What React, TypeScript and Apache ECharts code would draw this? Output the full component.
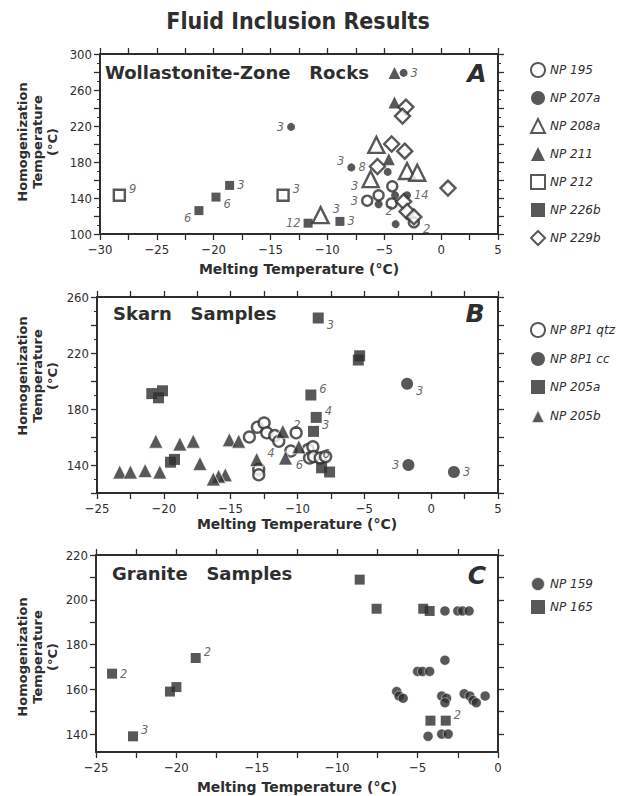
import React, { useEffect, useRef } from "react";
import * as echarts from "echarts";

// ---------- Panel A: Wollastonite-Zone Rocks  [melting T, homogenization T, count]
const np195: (number | null)[][] = [[-6.5, 137, 3], [-5.5, 143], [-4.3, 153], [-4.35, 134], [-2.4, 113, 2]];
const np207a: (number | null)[][] = [[-13.2, 219, 3], [-7.9, 174, 3], [-3.3, 279, 3], [-4.7, 169], [-5.5, 133, 2], [-4.05, 143], [-3.0, 143, 14], [-4.0, 111]];
const np208a: (number | null)[][] = [[-10.6, 121, 3], [-5.7, 199], [-6.2, 161, 3], [-3.0, 170], [-2.1, 168]];
const np211: (number | null)[][] = [[-4.1, 279], [-4.1, 246], [-4.6, 183]];
const np212: (number | null)[][] = [[-28.3, 143, 9], [-13.9, 143, 3]];
const np226b: (number | null)[][] = [[-21.3, 126, 6], [-19.8, 141, 6], [-18.6, 154, 3], [-11.7, 112, 12], [-8.9, 114, 3]];
const np229b: (number | null)[][] = [[-3.1, 241], [-3.4, 231], [-4.35, 200], [-3.2, 192], [-5.6, 175, 8], [-3.3, 136], [-3.0, 125], [-2.4, 119], [0.6, 151]];

// ---------- Panel B: Skarn Samples
const np8p1qtz: (number | null)[][] = [[-13.6, 160], [-13.0, 167], [-12.5, 170], [-12.3, 163], [-12.9, 137], [-12.9, 133], [-11.7, 161], [-11.4, 157], [-10.1, 163], [-10.5, 150], [-9.2, 151], [-8.85, 153, 6], [-9.1, 145], [-8.8, 146], [-8.3, 145], [-7.9, 146]];
const np8p1cc: (number | null)[][] = [[-1.8, 198, 3], [-1.7, 140, 3], [1.7, 135, 3]];
const np205a: (number | null)[][] = [[-8.45, 245, 3], [-5.35, 218], [-5.45, 215], [-9.0, 190, 6], [-8.6, 174, 4], [-8.8, 164, 3], [-8.2, 138], [-7.6, 135], [-20.9, 191], [-20.1, 193], [-20.4, 188], [-19.2, 144], [-19.5, 142]];
const np205b: (number | null)[][] = [[-23.3, 135], [-22.5, 135], [-21.4, 136], [-20.3, 135], [-20.6, 157], [-18.8, 155], [-17.8, 157], [-17.3, 141], [-15.4, 133], [-15.9, 132], [-16.3, 130], [-15.1, 158], [-14.4, 157], [-11.1, 164, 2], [-13.05, 144, 4], [-10.9, 145, 6], [-9.9, 153]];

// ---------- Panel C: Granite Samples
const np159: (number | null)[][] = [[-3.3, 195], [-2.5, 195], [-2.2, 195], [-1.8, 195], [-3.3, 173], [-5.0, 168], [-4.7, 168], [-4.25, 168], [-6.3, 159], [-6.15, 157], [-5.9, 156], [-3.5, 157], [-3.2, 156], [-3.3, 154], [-2.1, 158], [-1.75, 157], [-1.55, 155], [-1.35, 154], [-0.8, 157], [-4.35, 139], [-3.5, 140], [-3.1, 140]];
const np165: (number | null)[][] = [[-24.0, 167, 2], [-22.7, 139, 3], [-20.4, 159], [-20.0, 161], [-18.8, 174, 2], [-8.6, 209], [-7.55, 196], [-4.65, 196], [-4.25, 195], [-4.2, 146], [-3.25, 146, 2]];

// tick labels
const xLabelsA = [-30, -25, -20, -15, -10, -5, 0, 5];
const yLabelsA = [100, 140, 180, 220, 260, 300];
const xLabelsB = [-25, -20, -15, -10, -5, 0, 5];
const yLabelsB = [140, 180, 220, 260];
const xLabelsC = [-25, -20, -15, -10, -5, 0];
const yLabelsC = [140, 160, 180, 200, 220];
const yTicksC = [140, 150, 160, 170, 180, 190, 200, 210, 220];

// label placement for counts (kept apart from data)
const sides: Record<string, string[]> = {
  "NP 195": ["l", "r", "r", "r", "br"],
  "NP 207a": ["l", "tl", "r", "r", "br", "r", "r", "r"],
  "NP 208a": ["tr", "r", "bl", "r", "r"],
  "NP 212": ["tr", "tr"],
  "NP 226b": ["bl", "br", "r", "l", "r"],
  "NP 229b": ["r", "r", "r", "r", "l", "r", "r", "r", "r"],
  "NP 8P1 qtz": ["r", "r", "r", "r", "r", "r", "r", "r", "r", "r", "r", "br"],
  "NP 8P1 cc": ["br", "l", "r"],
  "NP 205a": ["br", "r", "r", "tr", "tr", "tr"],
  "NP 205b": ["r", "r", "r", "r", "r", "r", "r", "r", "r", "r", "r", "r", "r", "tr", "tr", "br"],
  "NP 165": ["r", "tr", "r", "r", "tr", "r", "r", "r", "r", "r", "tr"],
};

const INK = "#2e2e2e";
const FONT = '"DejaVu Sans", sans-serif';
const COND = '"DejaVu Sans Condensed", "DejaVu Sans", sans-serif';

const fmt = (v: number) => (v < 0 ? "\u2212" + Math.abs(v) : String(v));

function placement(s: string) {
  switch (s) {
    case "l": return { position: "left", offset: [0, 0] };
    case "tl": return { position: "left", offset: [0, -6] };
    case "bl": return { position: "left", offset: [0, 7] };
    case "tr": return { position: "right", offset: [0, -6] };
    case "br": return { position: "right", offset: [0, 7] };
    default: return { position: "right", offset: [0, 0] };
  }
}

function series(name: string, data: (number | null)[][], gi: number, symbol: string, size: number, open: boolean, extra: any = {}) {
  const sd = sides[name] || [];
  return {
    name,
    type: "scatter",
    xAxisIndex: gi * 2,
    yAxisIndex: gi * 2,
    symbol,
    symbolSize: size,
    itemStyle: open
      ? { color: "#fff", borderColor: INK, borderWidth: 2.4 }
      : { color: INK, ...(extra.itemStyle || {}) },
    data: data.map((d, i) => {
      const n = d[2];
      const p = placement(sd[i] || "r");
      return {
        value: [d[0], d[1]],
        label: {
          show: n != null,
          formatter: n != null ? String(n) : "",
          position: p.position,
          offset: p.offset,
          distance: 3,
          color: "#444",
          fontSize: 11.5,
          fontStyle: "italic",
          fontFamily: FONT,
        },
      };
    }),
    z: extra.z || 2,
  };
}

function axes(gi: number, xmin: number, xmax: number, ymin: number, ymax: number, xLabels: number[], yLabels: number[], yInterval: number | null, yTicks: number[] | null) {
  const line = { show: true, onZero: false, lineStyle: { color: INK, width: 2 } };
  const tick = { show: true, inside: false, length: 6, lineStyle: { color: INK, width: 1.3 } };
  const xs = [
    {
      gridIndex: gi, type: "value", position: "bottom", min: xmin, max: xmax, interval: 2.5,
      axisLine: line, axisTick: tick, splitLine: { show: false },
      axisLabel: {
        color: INK, fontSize: 13, fontFamily: COND, margin: 9, hideOverlap: false,
        showMinLabel: true, showMaxLabel: true,
        formatter: (v: number) => (xLabels.some((l) => Math.abs(l - v) < 1e-6) ? fmt(v) : ""),
      },
    },
    {
      gridIndex: gi, type: "value", position: "top", min: xmin, max: xmax, interval: 2.5,
      axisLine: line, axisTick: tick, splitLine: { show: false }, axisLabel: { show: false },
    },
  ];
  const yBase: any = {
    gridIndex: gi, type: "value", min: ymin, max: ymax,
    axisLine: line, splitLine: { show: false },
  };
  if (yInterval) {
    yBase.interval = yInterval;
    yBase.minorTick = { show: true, splitNumber: 2, length: 3, lineStyle: { color: INK, width: 1 } };
    yBase.axisTick = tick;
  } else {
    yBase.axisTick = { ...tick, customValues: yTicks };
  }
  const ys = [
    {
      ...yBase, position: "left",
      axisLabel: {
        color: INK, fontSize: 13, fontFamily: COND, margin: 8, hideOverlap: false,
        showMinLabel: true, showMaxLabel: true,
        ...(yInterval ? {} : { customValues: yLabels }),
        formatter: (v: number) => (yLabels.some((l) => Math.abs(l - v) < 1e-6) ? String(v) : ""),
      },
    },
    { ...yBase, position: "right", axisLabel: { show: false } },
  ];
  return { xs, ys };
}

function yName(x: number, y: number) {
  return {
    type: "text", x, y, rotation: Math.PI / 2,
    style: {
      text: "Homogenization\nTemperature\n(\u00B0C)", align: "center", verticalAlign: "middle",
      font: "bold 13px " + FONT, fill: INK, lineHeight: 15,
    },
  };
}
function xName(x: number, y: number) {
  return {
    type: "text", x, y,
    style: { text: "Melting Temperature (\u00B0C)", align: "center", verticalAlign: "middle", font: "bold 14px " + FONT, fill: INK },
  };
}
function heading(text: string, x: number, y: number) {
  return { type: "text", x, y, style: { text, align: "left", verticalAlign: "middle", font: "bold 18px " + FONT, fill: INK } };
}
function letter(text: string, x: number, y: number) {
  return { type: "text", x, y, style: { text, align: "center", verticalAlign: "middle", font: "italic bold 25px " + FONT, fill: INK } };
}

export default function App() {
  const ref = useRef<HTMLDivElement>(null);
  useEffect(() => {
    document.body.style.margin = "0";
    if (!ref.current) return;
    const chart = echarts.init(ref.current, undefined, { renderer: "svg" });
    const a = axes(0, -30, 5, 100, 300, xLabelsA, yLabelsA, 20, null);
    const b = axes(1, -25, 5, 120, 260, xLabelsB, yLabelsB, 20, null);
    const c = axes(2, -25, 0, 132, 220, xLabelsC, yLabelsC, null, yTicksC);
    const legendBase = {
      orient: "vertical", left: 525, itemWidth: 14, itemHeight: 14,
      textStyle: { color: INK, fontSize: 12, fontStyle: "italic", fontFamily: FONT },
      selectedMode: false,
    };
    chart.setOption({
      animation: false,
      backgroundColor: "#fff",
      grid: [
        { left: 100, top: 54, width: 398, height: 180 },
        { left: 97, top: 297, width: 401, height: 196 },
        { left: 96, top: 555, width: 402, height: 197 },
      ],
      xAxis: [...a.xs, ...b.xs, ...c.xs],
      yAxis: [...a.ys, ...b.ys, ...c.ys],
      legend: [
        { ...legendBase, top: 57, itemGap: 13, data: ["NP 195", "NP 207a", "NP 208a", "NP 211", "NP 212", "NP 226b", "NP 229b"] },
        { ...legendBase, top: 317, itemGap: 14, data: ["NP 8P1 qtz", "NP 8P1 cc", "NP 205a", "NP 205b"] },
        { ...legendBase, top: 571, itemGap: 8, data: ["NP 159", "NP 165"] },
      ],
      graphic: [
        { type: "text", x: 298, y: 21, style: { text: "Fluid Inclusion Results", align: "center", verticalAlign: "middle", font: "bold 23px " + COND, fill: INK } },
        heading("Wollastonite-Zone   Rocks", 105, 72),
        letter("A", 477, 73),
        heading("Skarn   Samples", 113, 313),
        letter("B", 475, 313),
        heading("Granite   Samples", 112, 573),
        letter("C", 477, 575),
        yName(37, 142),
        yName(37, 376),
        yName(37, 657),
        xName(299, 269),
        xName(297, 524),
        xName(297, 787),
      ],
      series: [
        series("NP 195", np195, 0, "circle", 10, true),
        series("NP 207a", np207a, 0, "circle", 8, false),
        series("NP 208a", np208a, 0, "triangle", 16, true),
        series("NP 211", np211, 0, "triangle", 12, false),
        series("NP 212", np212, 0, "rect", 11, true),
        series("NP 226b", np226b, 0, "rect", 9, false),
        series("NP 229b", np229b, 0, "diamond", 15, true),
        series("NP 8P1 qtz", np8p1qtz, 1, "circle", 11, true),
        series("NP 8P1 cc", np8p1cc, 1, "circle", 12, false),
        series("NP 205a", np205a, 1, "rect", 11, false),
        series("NP 205b", np205b, 1, "triangle", 14, false, { itemStyle: { borderColor: "#fff", borderWidth: 0.8 } }),
        series("NP 159", np159, 2, "circle", 10, false, { itemStyle: { borderColor: "#fff", borderWidth: 0.6 } }),
        series("NP 165", np165, 2, "rect", 10, false),
      ],
    });
    return () => chart.dispose();
  }, []);
  return <div ref={ref} style={{ width: 631, height: 796 }} />;
}
